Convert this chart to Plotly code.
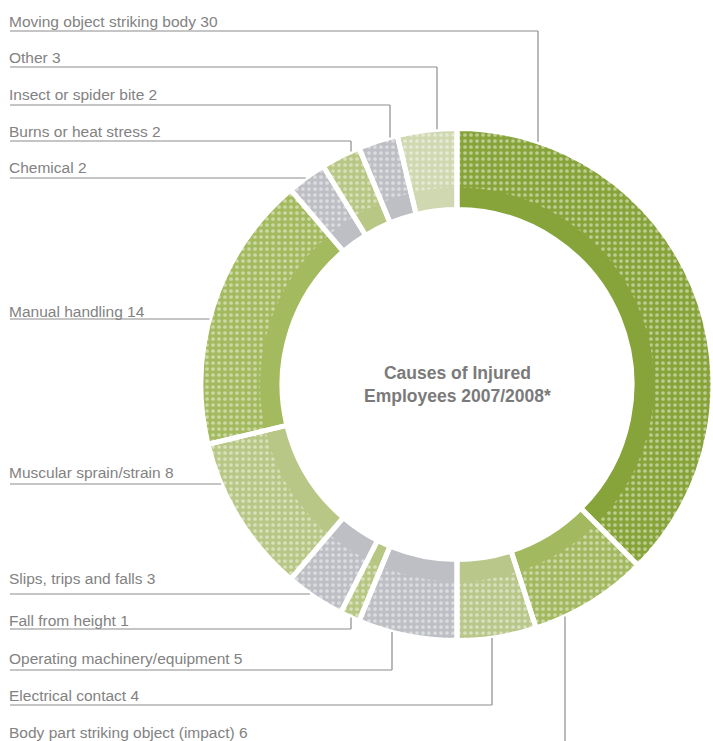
import math
import plotly.graph_objects as go

# Injury causes, clockwise from 12 o'clock
causes = [
    "Moving object striking body",
    "Body part striking object (impact)",
    "Electrical contact",
    "Operating machinery/equipment",
    "Fall from height",
    "Slips, trips and falls",
    "Muscular sprain/strain",
    "Manual handling",
    "Chemical",
    "Burns or heat stress",
    "Insect or spider bite",
    "Other",
]
counts = [30, 6, 4, 5, 1, 3, 8, 14, 2, 2, 2, 3]
slice_colors = [
    "#87a43a", "#a2b95f", "#b9c78a", "#bebfc4", "#b7c783", "#bebfc4",
    "#b8c785", "#a3ba5f", "#bebfc4", "#b8c784", "#bebfc4", "#cfd8b0",
]

# Label order down the left side, with leader-line routing
label_order = [
    "Moving object striking body", "Other", "Insect or spider bite",
    "Burns or heat stress", "Chemical", "Manual handling",
    "Muscular sprain/strain", "Slips, trips and falls", "Fall from height",
    "Operating machinery/equipment", "Electrical contact",
    "Body part striking object (impact)",
]
label_text_y = [22, 58, 95, 131, 167, 311, 472, 578, 620, 658, 695, 732]
leader_y = [31, 67, 105, 141, 178, 319, 484, 594, 629, 670, 705, 742]
# elbow x for a vertical drop/rise to the ring; None = run straight to the ring
leader_elbow_x = [538, 437, 390, 351, None, None, None, None, 351, 392, 492, 565]

W, H = 713, 741
R_OUT, R_MID, R_IN = 256, 197, 175
CX, CY = W - R_OUT, 384.5      # ring centre (px from top-left)


def domain(r):
    return dict(
        x=[max(0, (CX - r) / W), min(1, (CX + r) / W)],
        y=[(H - CY - r) / H, (H - CY + r) / H],
    )


fig = go.Figure()

# outer dotted band
fig.add_trace(go.Pie(
    labels=causes, values=counts, sort=False, direction="clockwise", rotation=0,
    hole=R_IN / R_OUT, domain=domain(R_OUT),
    marker=dict(colors=slice_colors, line=dict(width=0),
                pattern=dict(shape=".", fillmode="replace",
                             bgcolor=slice_colors, fgcolor="white",
                             fgopacity=0.45, size=6, solidity=0.3)),
    textinfo="none", hoverinfo="label+value", showlegend=False,
))
# inner solid band
fig.add_trace(go.Pie(
    labels=causes, values=counts, sort=False, direction="clockwise", rotation=0,
    hole=R_IN / R_MID, domain=domain(R_MID),
    marker=dict(colors=slice_colors, line=dict(width=0)),
    textinfo="none", hoverinfo="skip", showlegend=False,
))
# white separators between slices
fig.add_trace(go.Pie(
    labels=causes, values=counts, sort=False, direction="clockwise", rotation=0,
    hole=R_IN / R_OUT, domain=domain(R_OUT),
    marker=dict(colors=["rgba(0,0,0,0)"] * len(causes),
                line=dict(color="white", width=5)),
    textinfo="none", hoverinfo="skip", showlegend=False,
))


def px(x):
    return x / W


def py(y):
    return 1 - y / H


value_of = dict(zip(causes, counts))
shapes = []
annotations = []
LINE = dict(color="#8c8c8c", width=1.2)
for name, ty, ly, ex in zip(label_order, label_text_y, leader_y, leader_elbow_x):
    annotations.append(dict(
        x=px(7), y=py(ty), xref="paper", yref="paper", xanchor="left",
        yanchor="middle", showarrow=False, text=f"{name} {value_of[name]}",
        font=dict(family="Liberation Sans, Arial, sans-serif", size=15.5,
                  color="#828282"),
    ))
    if ex is None:
        # horizontal run until it meets the ring's outer edge
        xe = CX - math.sqrt(R_OUT ** 2 - (ly - CY) ** 2)
        shapes.append(dict(type="line", xref="paper", yref="paper",
                           x0=px(10), y0=py(ly), x1=px(xe), y1=py(ly), line=LINE))
    else:
        dy = math.sqrt(R_OUT ** 2 - (ex - CX) ** 2)
        ye = CY - dy if ly < CY else CY + dy
        shapes.append(dict(type="line", xref="paper", yref="paper",
                           x0=px(10), y0=py(ly), x1=px(ex), y1=py(ly), line=LINE))
        shapes.append(dict(type="line", xref="paper", yref="paper",
                           x0=px(ex), y0=py(ly), x1=px(ex), y1=py(ye), line=LINE))

annotations.append(dict(
    x=px(CX), y=py(CY), xref="paper", yref="paper", xanchor="center",
    yanchor="middle", showarrow=False,
    text="<b>Causes of Injured<br>Employees 2007/2008*</b>",
    font=dict(family="Liberation Sans, Arial, sans-serif", size=17.5,
              color="#7a7a7a"),
))

fig.update_layout(
    width=W, height=H, margin=dict(l=0, r=0, t=0, b=0),
    paper_bgcolor="white", plot_bgcolor="white",
    shapes=shapes, annotations=annotations, showlegend=False,
)

fig.write_html("out.html")
